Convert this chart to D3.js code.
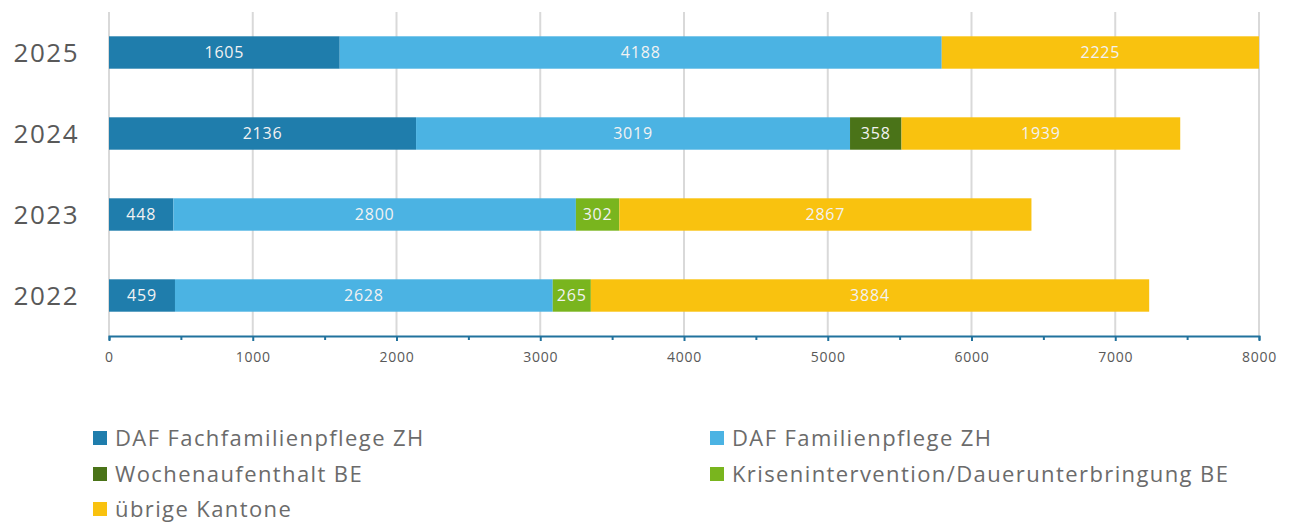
<!DOCTYPE html>
<html>
<head>
<meta charset="utf-8">
<script src="https://cdn.jsdelivr.net/npm/d3@7"></script>
<style>
  body { margin: 0; background: #fff; }
  svg { display: block; font-family: "Open Sans", "Liberation Sans", Arial, sans-serif; }
</style>
</head>
<body>
<svg id="viz"></svg>
<script>
var years = ["2025", "2024", "2023", "2022"];
var seriesNames = ["DAF Fachfamilienpflege ZH", "DAF Familienpflege ZH", "Wochenaufenthalt BE",
                   "Krisenintervention/Dauerunterbringung BE", "übrige Kantone"];
var seriesColors = ["#1f7dac", "#4bb3e3", "#4a7318", "#79b51e", "#f9c20f"];
var fachfamilie = [1605, 2136, 448, 459];
var familie = [4188, 3019, 2800, 2628];
var wochen = [0, 358, 0, 0];
var krisen = [0, 0, 302, 265];
var uebrige = [2225, 1939, 2867, 3884];
var xTicks = [0, 1000, 2000, 3000, 4000, 5000, 6000, 7000, 8000];

function draw() {
    var width = 1292, height = 522;
    var svg = d3.select("#viz").attr("width", width).attr("height", height);

    var x = d3.scaleLinear().domain([0, 8000]).range([109, 1259]).clamp(true);
    var y = d3.scaleBand().domain(years).range([12, 336]).paddingInner(0.6).paddingOuter(0.3);

    // gridlines
    svg.append("g").selectAll("line")
        .data(xTicks).enter().append("line")
        .attr("x1", function(d) { return x(d); })
        .attr("x2", function(d) { return x(d); })
        .attr("y1", 12).attr("y2", 336)
        .attr("stroke", "#d9d9d9").attr("stroke-width", 2);

    var table = years.map(function(yr, i) {
        return { year: yr, s0: fachfamilie[i], s1: familie[i], s2: wochen[i], s3: krisen[i], s4: uebrige[i] };
    });
    var stack = d3.stack().keys(["s0", "s1", "s2", "s3", "s4"])(table);

    var layers = svg.append("g").selectAll("g")
        .data(stack).enter().append("g")
        .attr("fill", function(d, i) { return seriesColors[i]; });

    layers.selectAll("rect")
        .data(function(d) { return d.filter(function(p) { return p[1] > p[0]; }); })
        .enter().append("rect")
        .attr("x", function(d) { return x(d[0]); })
        .attr("width", function(d) { return x(d[1]) - x(d[0]); })
        .attr("y", function(d) { return y(d.data.year); })
        .attr("height", y.bandwidth());

    layers.selectAll("text")
        .data(function(d) { return d.filter(function(p) { return p[1] > p[0]; }); })
        .enter().append("text")
        .attr("x", function(d) { return (x(d[0]) + x(d[1])) / 2; })
        .attr("y", function(d) { return y(d.data.year) + y.bandwidth() / 2; })
        .attr("dy", "0.35em")
        .attr("text-anchor", "middle")
        .attr("fill", "#f2f2f2")
        .style("font-size", "16px")
        .style("letter-spacing", "0.8px")
        .text(function(d) { return d[1] - d[0]; });

    // year labels
    svg.append("g").selectAll("text")
        .data(years).enter().append("text")
        .attr("x", 79)
        .attr("y", function(d) { return y(d) + y.bandwidth() / 2; })
        .attr("dy", "0.35em")
        .attr("text-anchor", "end")
        .attr("fill", "#595959")
        .style("font-size", "26px")
        .style("letter-spacing", "1.5px")
        .text(function(d) { return d; });

    // axis
    var axis = svg.append("g").attr("transform", "translate(0,336)")
        .call(d3.axisBottom(x).tickValues(d3.range(0, 8001, 500)).tickSize(4).tickFormat(function(d) {
            return d % 1000 === 0 ? d : "";
        }));
    axis.attr("font-size", 14).attr("font-family", null);
    axis.select(".domain").attr("stroke", "#21729d").attr("stroke-width", 2);
    axis.selectAll(".tick line").attr("stroke", "#21729d").attr("stroke-width", 2)
        .attr("y2", function(d) { return d % 1000 === 0 ? 5 : 4; });
    axis.selectAll(".tick text").attr("fill", "#595959").attr("y", 16)
        .style("letter-spacing", "0.8px");

    // legend
    var legendPos = [[93, 438], [710, 438], [93, 474], [710, 474], [93, 509]];
    var legend = svg.append("g").selectAll("g")
        .data(seriesNames).enter().append("g")
        .attr("transform", function(d, i) { return "translate(" + legendPos[i][0] + "," + legendPos[i][1] + ")"; });
    legend.append("rect")
        .attr("x", 0).attr("y", -7).attr("width", 14).attr("height", 14)
        .attr("fill", function(d, i) { return seriesColors[i]; });
    legend.append("text")
        .attr("x", 22).attr("dy", "0.35em")
        .attr("fill", "#6b6b6b")
        .style("font-size", "22px")
        .style("letter-spacing", "1.4px")
        .text(function(d) { return d; });
}
draw();
</script>
</body>
</html>
